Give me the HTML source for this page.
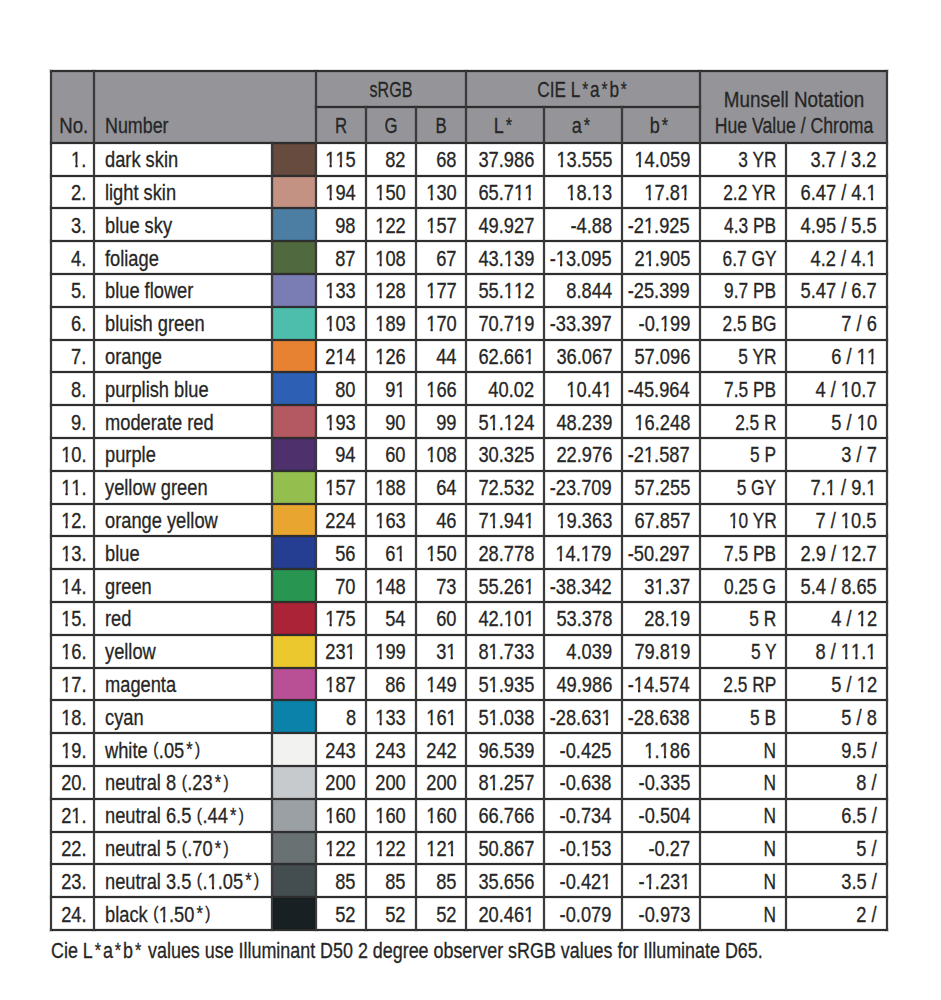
<!DOCTYPE html>
<html><head><meta charset="utf-8"><style>
html,body{margin:0;padding:0;background:#fff;}
body{width:941px;height:1000px;position:relative;overflow:hidden;font-family:"Liberation Sans",sans-serif;}
.fl{position:absolute;}
.ln{position:absolute;box-shadow:0 0 0 1px rgba(0,0,0,.09);}
.t u{text-decoration:none;display:inline-block;font-size:0.85em;line-height:10px;position:relative;top:-0.13em;margin:0 0.03em;}
.t b{font-weight:normal;display:inline-block;font-size:0.9em;line-height:10px;position:relative;top:-0.07em;margin:0 0.12em;}
.t i{font-style:normal;display:inline-block;clip-path:polygon(0 0,100% 0,100% 0.6em,0.356em 0.6em,0.356em 100%,0.234em 100%,0.234em 0.6em,0 0.6em);}
.t{position:absolute;font-size:22px;line-height:22px;color:#262626;white-space:nowrap;-webkit-text-stroke:0.3px #262626;}
.r{transform-origin:100% 50%;text-align:right;}
.l{transform-origin:0 50%;}
.c{width:400px;text-align:center;transform-origin:50% 50%;}
</style></head><body>
<div class="fl" style="left:50px;top:70px;width:838px;height:72.69999999999999px;background:#959599"></div>
<div class="fl" style="left:271px;top:142.70px;width:44px;height:32.80px;background:#664B3E"></div>
<div class="fl" style="left:271px;top:175.50px;width:44px;height:32.80px;background:#C49282"></div>
<div class="fl" style="left:271px;top:208.30px;width:44px;height:32.80px;background:#4C7EA3"></div>
<div class="fl" style="left:271px;top:241.10px;width:44px;height:32.80px;background:#50693E"></div>
<div class="fl" style="left:271px;top:273.90px;width:44px;height:32.80px;background:#7A7CB4"></div>
<div class="fl" style="left:271px;top:306.70px;width:44px;height:32.80px;background:#4EBEAC"></div>
<div class="fl" style="left:271px;top:339.50px;width:44px;height:32.80px;background:#E68232"></div>
<div class="fl" style="left:271px;top:372.30px;width:44px;height:32.80px;background:#2D5FB4"></div>
<div class="fl" style="left:271px;top:405.10px;width:44px;height:32.80px;background:#B45862"></div>
<div class="fl" style="left:271px;top:437.90px;width:44px;height:32.80px;background:#4E306C"></div>
<div class="fl" style="left:271px;top:470.70px;width:44px;height:32.80px;background:#94BE4E"></div>
<div class="fl" style="left:271px;top:503.50px;width:44px;height:32.80px;background:#E8A530"></div>
<div class="fl" style="left:271px;top:536.30px;width:44px;height:32.80px;background:#263E91"></div>
<div class="fl" style="left:271px;top:569.10px;width:44px;height:32.80px;background:#289650"></div>
<div class="fl" style="left:271px;top:601.90px;width:44px;height:32.80px;background:#AA2337"></div>
<div class="fl" style="left:271px;top:634.70px;width:44px;height:32.80px;background:#EBC82D"></div>
<div class="fl" style="left:271px;top:667.50px;width:44px;height:32.80px;background:#B95096"></div>
<div class="fl" style="left:271px;top:700.30px;width:44px;height:32.80px;background:#0A82AA"></div>
<div class="fl" style="left:271px;top:733.10px;width:44px;height:32.80px;background:#F2F3F1"></div>
<div class="fl" style="left:271px;top:765.90px;width:44px;height:32.80px;background:#C6CACC"></div>
<div class="fl" style="left:271px;top:798.70px;width:44px;height:32.80px;background:#9BA0A4"></div>
<div class="fl" style="left:271px;top:831.50px;width:44px;height:32.80px;background:#697173"></div>
<div class="fl" style="left:271px;top:864.30px;width:44px;height:32.80px;background:#444E50"></div>
<div class="fl" style="left:271px;top:897.10px;width:44px;height:32.80px;background:#192024"></div>
<div class="ln" style="left:50px;top:70px;width:838px;height:2px;background:#2e2e2e"></div>
<div class="ln" style="left:315px;top:106px;width:386px;height:2px;background:#2e2e2e"></div>
<div class="ln" style="left:50px;top:141.7px;width:838px;height:2px;background:#2e2e2e"></div>
<div class="ln" style="left:50px;top:174.5px;width:838px;height:2px;background:#2e2e2e"></div>
<div class="ln" style="left:50px;top:207.3px;width:838px;height:2px;background:#2e2e2e"></div>
<div class="ln" style="left:50px;top:240.1px;width:838px;height:2px;background:#2e2e2e"></div>
<div class="ln" style="left:50px;top:272.9px;width:838px;height:2px;background:#2e2e2e"></div>
<div class="ln" style="left:50px;top:305.7px;width:838px;height:2px;background:#2e2e2e"></div>
<div class="ln" style="left:50px;top:338.5px;width:838px;height:2px;background:#2e2e2e"></div>
<div class="ln" style="left:50px;top:371.3px;width:838px;height:2px;background:#2e2e2e"></div>
<div class="ln" style="left:50px;top:404.1px;width:838px;height:2px;background:#2e2e2e"></div>
<div class="ln" style="left:50px;top:436.9px;width:838px;height:2px;background:#2e2e2e"></div>
<div class="ln" style="left:50px;top:469.7px;width:838px;height:2px;background:#2e2e2e"></div>
<div class="ln" style="left:50px;top:502.5px;width:838px;height:2px;background:#2e2e2e"></div>
<div class="ln" style="left:50px;top:535.3px;width:838px;height:2px;background:#2e2e2e"></div>
<div class="ln" style="left:50px;top:568.1px;width:838px;height:2px;background:#2e2e2e"></div>
<div class="ln" style="left:50px;top:600.9px;width:838px;height:2px;background:#2e2e2e"></div>
<div class="ln" style="left:50px;top:633.7px;width:838px;height:2px;background:#2e2e2e"></div>
<div class="ln" style="left:50px;top:666.5px;width:838px;height:2px;background:#2e2e2e"></div>
<div class="ln" style="left:50px;top:699.3px;width:838px;height:2px;background:#2e2e2e"></div>
<div class="ln" style="left:50px;top:732.1px;width:838px;height:2px;background:#2e2e2e"></div>
<div class="ln" style="left:50px;top:764.9px;width:838px;height:2px;background:#2e2e2e"></div>
<div class="ln" style="left:50px;top:797.7px;width:838px;height:2px;background:#2e2e2e"></div>
<div class="ln" style="left:50px;top:830.5px;width:838px;height:2px;background:#2e2e2e"></div>
<div class="ln" style="left:50px;top:863.3px;width:838px;height:2px;background:#2e2e2e"></div>
<div class="ln" style="left:50px;top:896.1px;width:838px;height:2px;background:#2e2e2e"></div>
<div class="ln" style="left:50px;top:928.9px;width:838px;height:2px;background:#2e2e2e"></div>
<div class="ln" style="left:50px;top:70px;width:2px;height:860.8999999999999px;background:#3a3a3a"></div>
<div class="ln" style="left:93px;top:70px;width:2px;height:860.8999999999999px;background:#3a3a3a"></div>
<div class="ln" style="left:315px;top:70px;width:2px;height:860.8999999999999px;background:#3a3a3a"></div>
<div class="ln" style="left:365px;top:106px;width:2px;height:824.8999999999999px;background:#3a3a3a"></div>
<div class="ln" style="left:415px;top:106px;width:2px;height:824.8999999999999px;background:#3a3a3a"></div>
<div class="ln" style="left:465px;top:70px;width:2px;height:860.8999999999999px;background:#3a3a3a"></div>
<div class="ln" style="left:543px;top:106px;width:2px;height:824.8999999999999px;background:#3a3a3a"></div>
<div class="ln" style="left:621px;top:106px;width:2px;height:824.8999999999999px;background:#3a3a3a"></div>
<div class="ln" style="left:699px;top:70px;width:2px;height:860.8999999999999px;background:#3a3a3a"></div>
<div class="ln" style="left:785px;top:141.7px;width:2px;height:789.1999999999998px;background:#3a3a3a"></div>
<div class="ln" style="left:886px;top:70px;width:2px;height:860.8999999999999px;background:#3a3a3a"></div>
<div class="ln" style="left:271px;top:141.7px;width:2px;height:789.1999999999998px;background:#3a3a3a"></div>
<div id="tx" style="position:absolute;left:0;top:0;width:941px;height:1000px;opacity:0.999">
<div class="t c" style="left:191.25px;top:79.20px;transform:scaleX(0.7312)">sRGB</div>
<div class="t c" style="left:383.40px;top:79.20px;transform:scaleX(0.7827)">CIE L<b>*</b>a<b>*</b>b<b>*</b></div>
<div class="t c" style="left:593.90px;top:89.20px;transform:scaleX(0.8562)">Munsell Notation</div>
<div class="t c" style="left:593.90px;top:115.00px;transform:scaleX(0.8018)">Hue Value / Chroma</div>
<div class="t r" style="right:853.00px;top:115.00px;transform:scaleX(0.8467)">No.</div>
<div class="t l" style="left:104.60px;top:115.00px;transform:scaleX(0.8123)">Number</div>
<div class="t c" style="left:141.00px;top:115.00px;transform:scaleX(0.7636)">R</div>
<div class="t c" style="left:191.00px;top:115.00px;transform:scaleX(0.7636)">G</div>
<div class="t c" style="left:241.25px;top:115.00px;transform:scaleX(0.7636)">B</div>
<div class="t c" style="left:304.40px;top:115.00px;transform:scaleX(0.8209)">L<b>*</b></div>
<div class="t c" style="left:382.20px;top:115.00px;transform:scaleX(0.8209)">a<b>*</b></div>
<div class="t c" style="left:460.20px;top:115.00px;transform:scaleX(0.8209)">b<b>*</b></div>
<div class="t r" style="right:854.70px;top:149.20px;transform:scaleX(0.8305)"><i>1</i>.</div>
<div class="t l" style="left:104.60px;top:149.20px;transform:scaleX(0.8305)">dark skin</div>
<div class="t r" style="right:585.20px;top:149.20px;transform:scaleX(0.8305)"><i>1</i><i>1</i>5</div>
<div class="t r" style="right:535.20px;top:149.20px;transform:scaleX(0.8305)">82</div>
<div class="t r" style="right:484.70px;top:149.20px;transform:scaleX(0.8305)">68</div>
<div class="t r" style="right:406.90px;top:149.20px;transform:scaleX(0.8305)">37.986</div>
<div class="t r" style="right:329.20px;top:149.20px;transform:scaleX(0.8305)"><i>1</i>3.555</div>
<div class="t r" style="right:250.90px;top:149.20px;transform:scaleX(0.8305)"><i>1</i>4.059</div>
<div class="t r" style="right:164.70px;top:149.20px;transform:scaleX(0.7875)">3 YR</div>
<div class="t r" style="right:64.30px;top:149.20px;transform:scaleX(0.8305)">3.7 / 3.2</div>
<div class="t r" style="right:854.70px;top:182.00px;transform:scaleX(0.8305)">2.</div>
<div class="t l" style="left:104.60px;top:182.00px;transform:scaleX(0.8305)">light skin</div>
<div class="t r" style="right:585.20px;top:182.00px;transform:scaleX(0.8305)"><i>1</i>94</div>
<div class="t r" style="right:535.20px;top:182.00px;transform:scaleX(0.8305)"><i>1</i>50</div>
<div class="t r" style="right:484.70px;top:182.00px;transform:scaleX(0.8305)"><i>1</i>30</div>
<div class="t r" style="right:406.90px;top:182.00px;transform:scaleX(0.8305)">65.7<i>1</i><i>1</i></div>
<div class="t r" style="right:329.20px;top:182.00px;transform:scaleX(0.8305)"><i>1</i>8.<i>1</i>3</div>
<div class="t r" style="right:250.90px;top:182.00px;transform:scaleX(0.8305)"><i>1</i>7.8<i>1</i></div>
<div class="t r" style="right:164.70px;top:182.00px;transform:scaleX(0.7875)">2.2 YR</div>
<div class="t r" style="right:64.30px;top:182.00px;transform:scaleX(0.8305)">6.47 / 4.<i>1</i></div>
<div class="t r" style="right:854.70px;top:214.80px;transform:scaleX(0.8305)">3.</div>
<div class="t l" style="left:104.60px;top:214.80px;transform:scaleX(0.8305)">blue sky</div>
<div class="t r" style="right:585.20px;top:214.80px;transform:scaleX(0.8305)">98</div>
<div class="t r" style="right:535.20px;top:214.80px;transform:scaleX(0.8305)"><i>1</i>22</div>
<div class="t r" style="right:484.70px;top:214.80px;transform:scaleX(0.8305)"><i>1</i>57</div>
<div class="t r" style="right:406.90px;top:214.80px;transform:scaleX(0.8305)">49.927</div>
<div class="t r" style="right:329.20px;top:214.80px;transform:scaleX(0.8305)">-4.88</div>
<div class="t r" style="right:250.90px;top:214.80px;transform:scaleX(0.8305)">-2<i>1</i>.925</div>
<div class="t r" style="right:164.70px;top:214.80px;transform:scaleX(0.7875)">4.3 PB</div>
<div class="t r" style="right:64.30px;top:214.80px;transform:scaleX(0.8305)">4.95 / 5.5</div>
<div class="t r" style="right:854.70px;top:247.60px;transform:scaleX(0.8305)">4.</div>
<div class="t l" style="left:104.60px;top:247.60px;transform:scaleX(0.8305)">foliage</div>
<div class="t r" style="right:585.20px;top:247.60px;transform:scaleX(0.8305)">87</div>
<div class="t r" style="right:535.20px;top:247.60px;transform:scaleX(0.8305)"><i>1</i>08</div>
<div class="t r" style="right:484.70px;top:247.60px;transform:scaleX(0.8305)">67</div>
<div class="t r" style="right:406.90px;top:247.60px;transform:scaleX(0.8305)">43.<i>1</i>39</div>
<div class="t r" style="right:329.20px;top:247.60px;transform:scaleX(0.8305)">-<i>1</i>3.095</div>
<div class="t r" style="right:250.90px;top:247.60px;transform:scaleX(0.8305)">2<i>1</i>.905</div>
<div class="t r" style="right:164.70px;top:247.60px;transform:scaleX(0.7875)">6.7 GY</div>
<div class="t r" style="right:64.30px;top:247.60px;transform:scaleX(0.8305)">4.2 / 4.<i>1</i></div>
<div class="t r" style="right:854.70px;top:280.40px;transform:scaleX(0.8305)">5.</div>
<div class="t l" style="left:104.60px;top:280.40px;transform:scaleX(0.8305)">blue flower</div>
<div class="t r" style="right:585.20px;top:280.40px;transform:scaleX(0.8305)"><i>1</i>33</div>
<div class="t r" style="right:535.20px;top:280.40px;transform:scaleX(0.8305)"><i>1</i>28</div>
<div class="t r" style="right:484.70px;top:280.40px;transform:scaleX(0.8305)"><i>1</i>77</div>
<div class="t r" style="right:406.90px;top:280.40px;transform:scaleX(0.8305)">55.<i>1</i><i>1</i>2</div>
<div class="t r" style="right:329.20px;top:280.40px;transform:scaleX(0.8305)">8.844</div>
<div class="t r" style="right:250.90px;top:280.40px;transform:scaleX(0.8305)">-25.399</div>
<div class="t r" style="right:164.70px;top:280.40px;transform:scaleX(0.7875)">9.7 PB</div>
<div class="t r" style="right:64.30px;top:280.40px;transform:scaleX(0.8305)">5.47 / 6.7</div>
<div class="t r" style="right:854.70px;top:313.20px;transform:scaleX(0.8305)">6.</div>
<div class="t l" style="left:104.60px;top:313.20px;transform:scaleX(0.8305)">bluish green</div>
<div class="t r" style="right:585.20px;top:313.20px;transform:scaleX(0.8305)"><i>1</i>03</div>
<div class="t r" style="right:535.20px;top:313.20px;transform:scaleX(0.8305)"><i>1</i>89</div>
<div class="t r" style="right:484.70px;top:313.20px;transform:scaleX(0.8305)"><i>1</i>70</div>
<div class="t r" style="right:406.90px;top:313.20px;transform:scaleX(0.8305)">70.7<i>1</i>9</div>
<div class="t r" style="right:329.20px;top:313.20px;transform:scaleX(0.8305)">-33.397</div>
<div class="t r" style="right:250.90px;top:313.20px;transform:scaleX(0.8305)">-0.<i>1</i>99</div>
<div class="t r" style="right:164.70px;top:313.20px;transform:scaleX(0.7875)">2.5 BG</div>
<div class="t r" style="right:64.30px;top:313.20px;transform:scaleX(0.8305)">7 / 6</div>
<div class="t r" style="right:854.70px;top:346.00px;transform:scaleX(0.8305)">7.</div>
<div class="t l" style="left:104.60px;top:346.00px;transform:scaleX(0.8305)">orange</div>
<div class="t r" style="right:585.20px;top:346.00px;transform:scaleX(0.8305)">2<i>1</i>4</div>
<div class="t r" style="right:535.20px;top:346.00px;transform:scaleX(0.8305)"><i>1</i>26</div>
<div class="t r" style="right:484.70px;top:346.00px;transform:scaleX(0.8305)">44</div>
<div class="t r" style="right:406.90px;top:346.00px;transform:scaleX(0.8305)">62.66<i>1</i></div>
<div class="t r" style="right:329.20px;top:346.00px;transform:scaleX(0.8305)">36.067</div>
<div class="t r" style="right:250.90px;top:346.00px;transform:scaleX(0.8305)">57.096</div>
<div class="t r" style="right:164.70px;top:346.00px;transform:scaleX(0.7875)">5 YR</div>
<div class="t r" style="right:64.30px;top:346.00px;transform:scaleX(0.8305)">6 / <i>1</i><i>1</i></div>
<div class="t r" style="right:854.70px;top:378.80px;transform:scaleX(0.8305)">8.</div>
<div class="t l" style="left:104.60px;top:378.80px;transform:scaleX(0.8305)">purplish blue</div>
<div class="t r" style="right:585.20px;top:378.80px;transform:scaleX(0.8305)">80</div>
<div class="t r" style="right:535.20px;top:378.80px;transform:scaleX(0.8305)">9<i>1</i></div>
<div class="t r" style="right:484.70px;top:378.80px;transform:scaleX(0.8305)"><i>1</i>66</div>
<div class="t r" style="right:406.90px;top:378.80px;transform:scaleX(0.8305)">40.02</div>
<div class="t r" style="right:329.20px;top:378.80px;transform:scaleX(0.8305)"><i>1</i>0.4<i>1</i></div>
<div class="t r" style="right:250.90px;top:378.80px;transform:scaleX(0.8305)">-45.964</div>
<div class="t r" style="right:164.70px;top:378.80px;transform:scaleX(0.7875)">7.5 PB</div>
<div class="t r" style="right:64.30px;top:378.80px;transform:scaleX(0.8305)">4 / <i>1</i>0.7</div>
<div class="t r" style="right:854.70px;top:411.60px;transform:scaleX(0.8305)">9.</div>
<div class="t l" style="left:104.60px;top:411.60px;transform:scaleX(0.8305)">moderate red</div>
<div class="t r" style="right:585.20px;top:411.60px;transform:scaleX(0.8305)"><i>1</i>93</div>
<div class="t r" style="right:535.20px;top:411.60px;transform:scaleX(0.8305)">90</div>
<div class="t r" style="right:484.70px;top:411.60px;transform:scaleX(0.8305)">99</div>
<div class="t r" style="right:406.90px;top:411.60px;transform:scaleX(0.8305)">5<i>1</i>.<i>1</i>24</div>
<div class="t r" style="right:329.20px;top:411.60px;transform:scaleX(0.8305)">48.239</div>
<div class="t r" style="right:250.90px;top:411.60px;transform:scaleX(0.8305)"><i>1</i>6.248</div>
<div class="t r" style="right:164.70px;top:411.60px;transform:scaleX(0.7875)">2.5 R</div>
<div class="t r" style="right:64.30px;top:411.60px;transform:scaleX(0.8305)">5 / <i>1</i>0</div>
<div class="t r" style="right:854.70px;top:444.40px;transform:scaleX(0.8305)"><i>1</i>0.</div>
<div class="t l" style="left:104.60px;top:444.40px;transform:scaleX(0.8305)">purple</div>
<div class="t r" style="right:585.20px;top:444.40px;transform:scaleX(0.8305)">94</div>
<div class="t r" style="right:535.20px;top:444.40px;transform:scaleX(0.8305)">60</div>
<div class="t r" style="right:484.70px;top:444.40px;transform:scaleX(0.8305)"><i>1</i>08</div>
<div class="t r" style="right:406.90px;top:444.40px;transform:scaleX(0.8305)">30.325</div>
<div class="t r" style="right:329.20px;top:444.40px;transform:scaleX(0.8305)">22.976</div>
<div class="t r" style="right:250.90px;top:444.40px;transform:scaleX(0.8305)">-2<i>1</i>.587</div>
<div class="t r" style="right:164.70px;top:444.40px;transform:scaleX(0.7875)">5 P</div>
<div class="t r" style="right:64.30px;top:444.40px;transform:scaleX(0.8305)">3 / 7</div>
<div class="t r" style="right:854.70px;top:477.20px;transform:scaleX(0.8305)"><i>1</i><i>1</i>.</div>
<div class="t l" style="left:104.60px;top:477.20px;transform:scaleX(0.8305)">yellow green</div>
<div class="t r" style="right:585.20px;top:477.20px;transform:scaleX(0.8305)"><i>1</i>57</div>
<div class="t r" style="right:535.20px;top:477.20px;transform:scaleX(0.8305)"><i>1</i>88</div>
<div class="t r" style="right:484.70px;top:477.20px;transform:scaleX(0.8305)">64</div>
<div class="t r" style="right:406.90px;top:477.20px;transform:scaleX(0.8305)">72.532</div>
<div class="t r" style="right:329.20px;top:477.20px;transform:scaleX(0.8305)">-23.709</div>
<div class="t r" style="right:250.90px;top:477.20px;transform:scaleX(0.8305)">57.255</div>
<div class="t r" style="right:164.70px;top:477.20px;transform:scaleX(0.7875)">5 GY</div>
<div class="t r" style="right:64.30px;top:477.20px;transform:scaleX(0.8305)">7.<i>1</i> / 9.<i>1</i></div>
<div class="t r" style="right:854.70px;top:510.00px;transform:scaleX(0.8305)"><i>1</i>2.</div>
<div class="t l" style="left:104.60px;top:510.00px;transform:scaleX(0.8305)">orange yellow</div>
<div class="t r" style="right:585.20px;top:510.00px;transform:scaleX(0.8305)">224</div>
<div class="t r" style="right:535.20px;top:510.00px;transform:scaleX(0.8305)"><i>1</i>63</div>
<div class="t r" style="right:484.70px;top:510.00px;transform:scaleX(0.8305)">46</div>
<div class="t r" style="right:406.90px;top:510.00px;transform:scaleX(0.8305)">7<i>1</i>.94<i>1</i></div>
<div class="t r" style="right:329.20px;top:510.00px;transform:scaleX(0.8305)"><i>1</i>9.363</div>
<div class="t r" style="right:250.90px;top:510.00px;transform:scaleX(0.8305)">67.857</div>
<div class="t r" style="right:164.70px;top:510.00px;transform:scaleX(0.7875)"><i>1</i>0 YR</div>
<div class="t r" style="right:64.30px;top:510.00px;transform:scaleX(0.8305)">7 / <i>1</i>0.5</div>
<div class="t r" style="right:854.70px;top:542.80px;transform:scaleX(0.8305)"><i>1</i>3.</div>
<div class="t l" style="left:104.60px;top:542.80px;transform:scaleX(0.8305)">blue</div>
<div class="t r" style="right:585.20px;top:542.80px;transform:scaleX(0.8305)">56</div>
<div class="t r" style="right:535.20px;top:542.80px;transform:scaleX(0.8305)">6<i>1</i></div>
<div class="t r" style="right:484.70px;top:542.80px;transform:scaleX(0.8305)"><i>1</i>50</div>
<div class="t r" style="right:406.90px;top:542.80px;transform:scaleX(0.8305)">28.778</div>
<div class="t r" style="right:329.20px;top:542.80px;transform:scaleX(0.8305)"><i>1</i>4.<i>1</i>79</div>
<div class="t r" style="right:250.90px;top:542.80px;transform:scaleX(0.8305)">-50.297</div>
<div class="t r" style="right:164.70px;top:542.80px;transform:scaleX(0.7875)">7.5 PB</div>
<div class="t r" style="right:64.30px;top:542.80px;transform:scaleX(0.8305)">2.9 / <i>1</i>2.7</div>
<div class="t r" style="right:854.70px;top:575.60px;transform:scaleX(0.8305)"><i>1</i>4.</div>
<div class="t l" style="left:104.60px;top:575.60px;transform:scaleX(0.8305)">green</div>
<div class="t r" style="right:585.20px;top:575.60px;transform:scaleX(0.8305)">70</div>
<div class="t r" style="right:535.20px;top:575.60px;transform:scaleX(0.8305)"><i>1</i>48</div>
<div class="t r" style="right:484.70px;top:575.60px;transform:scaleX(0.8305)">73</div>
<div class="t r" style="right:406.90px;top:575.60px;transform:scaleX(0.8305)">55.26<i>1</i></div>
<div class="t r" style="right:329.20px;top:575.60px;transform:scaleX(0.8305)">-38.342</div>
<div class="t r" style="right:250.90px;top:575.60px;transform:scaleX(0.8305)">3<i>1</i>.37</div>
<div class="t r" style="right:164.70px;top:575.60px;transform:scaleX(0.7875)">0.25 G</div>
<div class="t r" style="right:64.30px;top:575.60px;transform:scaleX(0.8305)">5.4 / 8.65</div>
<div class="t r" style="right:854.70px;top:608.40px;transform:scaleX(0.8305)"><i>1</i>5.</div>
<div class="t l" style="left:104.60px;top:608.40px;transform:scaleX(0.8305)">red</div>
<div class="t r" style="right:585.20px;top:608.40px;transform:scaleX(0.8305)"><i>1</i>75</div>
<div class="t r" style="right:535.20px;top:608.40px;transform:scaleX(0.8305)">54</div>
<div class="t r" style="right:484.70px;top:608.40px;transform:scaleX(0.8305)">60</div>
<div class="t r" style="right:406.90px;top:608.40px;transform:scaleX(0.8305)">42.<i>1</i>0<i>1</i></div>
<div class="t r" style="right:329.20px;top:608.40px;transform:scaleX(0.8305)">53.378</div>
<div class="t r" style="right:250.90px;top:608.40px;transform:scaleX(0.8305)">28.<i>1</i>9</div>
<div class="t r" style="right:164.70px;top:608.40px;transform:scaleX(0.7875)">5 R</div>
<div class="t r" style="right:64.30px;top:608.40px;transform:scaleX(0.8305)">4 / <i>1</i>2</div>
<div class="t r" style="right:854.70px;top:641.20px;transform:scaleX(0.8305)"><i>1</i>6.</div>
<div class="t l" style="left:104.60px;top:641.20px;transform:scaleX(0.8305)">yellow</div>
<div class="t r" style="right:585.20px;top:641.20px;transform:scaleX(0.8305)">23<i>1</i></div>
<div class="t r" style="right:535.20px;top:641.20px;transform:scaleX(0.8305)"><i>1</i>99</div>
<div class="t r" style="right:484.70px;top:641.20px;transform:scaleX(0.8305)">3<i>1</i></div>
<div class="t r" style="right:406.90px;top:641.20px;transform:scaleX(0.8305)">8<i>1</i>.733</div>
<div class="t r" style="right:329.20px;top:641.20px;transform:scaleX(0.8305)">4.039</div>
<div class="t r" style="right:250.90px;top:641.20px;transform:scaleX(0.8305)">79.8<i>1</i>9</div>
<div class="t r" style="right:164.70px;top:641.20px;transform:scaleX(0.7875)">5 Y</div>
<div class="t r" style="right:64.30px;top:641.20px;transform:scaleX(0.8305)">8 / <i>1</i><i>1</i>.<i>1</i></div>
<div class="t r" style="right:854.70px;top:674.00px;transform:scaleX(0.8305)"><i>1</i>7.</div>
<div class="t l" style="left:104.60px;top:674.00px;transform:scaleX(0.8305)">magenta</div>
<div class="t r" style="right:585.20px;top:674.00px;transform:scaleX(0.8305)"><i>1</i>87</div>
<div class="t r" style="right:535.20px;top:674.00px;transform:scaleX(0.8305)">86</div>
<div class="t r" style="right:484.70px;top:674.00px;transform:scaleX(0.8305)"><i>1</i>49</div>
<div class="t r" style="right:406.90px;top:674.00px;transform:scaleX(0.8305)">5<i>1</i>.935</div>
<div class="t r" style="right:329.20px;top:674.00px;transform:scaleX(0.8305)">49.986</div>
<div class="t r" style="right:250.90px;top:674.00px;transform:scaleX(0.8305)">-<i>1</i>4.574</div>
<div class="t r" style="right:164.70px;top:674.00px;transform:scaleX(0.7875)">2.5 RP</div>
<div class="t r" style="right:64.30px;top:674.00px;transform:scaleX(0.8305)">5 / <i>1</i>2</div>
<div class="t r" style="right:854.70px;top:706.80px;transform:scaleX(0.8305)"><i>1</i>8.</div>
<div class="t l" style="left:104.60px;top:706.80px;transform:scaleX(0.8305)">cyan</div>
<div class="t r" style="right:585.20px;top:706.80px;transform:scaleX(0.8305)">8</div>
<div class="t r" style="right:535.20px;top:706.80px;transform:scaleX(0.8305)"><i>1</i>33</div>
<div class="t r" style="right:484.70px;top:706.80px;transform:scaleX(0.8305)"><i>1</i>6<i>1</i></div>
<div class="t r" style="right:406.90px;top:706.80px;transform:scaleX(0.8305)">5<i>1</i>.038</div>
<div class="t r" style="right:329.20px;top:706.80px;transform:scaleX(0.8305)">-28.63<i>1</i></div>
<div class="t r" style="right:250.90px;top:706.80px;transform:scaleX(0.8305)">-28.638</div>
<div class="t r" style="right:164.70px;top:706.80px;transform:scaleX(0.7875)">5 B</div>
<div class="t r" style="right:64.30px;top:706.80px;transform:scaleX(0.8305)">5 / 8</div>
<div class="t r" style="right:854.70px;top:739.60px;transform:scaleX(0.8305)"><i>1</i>9.</div>
<div class="t l" style="left:104.60px;top:739.60px;transform:scaleX(0.8305)">white <u>(</u>.05<b>*</b><u>)</u></div>
<div class="t r" style="right:585.20px;top:739.60px;transform:scaleX(0.8305)">243</div>
<div class="t r" style="right:535.20px;top:739.60px;transform:scaleX(0.8305)">243</div>
<div class="t r" style="right:484.70px;top:739.60px;transform:scaleX(0.8305)">242</div>
<div class="t r" style="right:406.90px;top:739.60px;transform:scaleX(0.8305)">96.539</div>
<div class="t r" style="right:329.20px;top:739.60px;transform:scaleX(0.8305)">-0.425</div>
<div class="t r" style="right:250.90px;top:739.60px;transform:scaleX(0.8305)"><i>1</i>.<i>1</i>86</div>
<div class="t r" style="right:164.70px;top:739.60px;transform:scaleX(0.7875)">N</div>
<div class="t r" style="right:64.30px;top:739.60px;transform:scaleX(0.8305)">9.5 /</div>
<div class="t r" style="right:854.70px;top:772.40px;transform:scaleX(0.8305)">20.</div>
<div class="t l" style="left:104.60px;top:772.40px;transform:scaleX(0.8305)">neutral 8 <u>(</u>.23<b>*</b><u>)</u></div>
<div class="t r" style="right:585.20px;top:772.40px;transform:scaleX(0.8305)">200</div>
<div class="t r" style="right:535.20px;top:772.40px;transform:scaleX(0.8305)">200</div>
<div class="t r" style="right:484.70px;top:772.40px;transform:scaleX(0.8305)">200</div>
<div class="t r" style="right:406.90px;top:772.40px;transform:scaleX(0.8305)">8<i>1</i>.257</div>
<div class="t r" style="right:329.20px;top:772.40px;transform:scaleX(0.8305)">-0.638</div>
<div class="t r" style="right:250.90px;top:772.40px;transform:scaleX(0.8305)">-0.335</div>
<div class="t r" style="right:164.70px;top:772.40px;transform:scaleX(0.7875)">N</div>
<div class="t r" style="right:64.30px;top:772.40px;transform:scaleX(0.8305)">8 /</div>
<div class="t r" style="right:854.70px;top:805.20px;transform:scaleX(0.8305)">2<i>1</i>.</div>
<div class="t l" style="left:104.60px;top:805.20px;transform:scaleX(0.8305)">neutral 6.5 <u>(</u>.44<b>*</b><u>)</u></div>
<div class="t r" style="right:585.20px;top:805.20px;transform:scaleX(0.8305)"><i>1</i>60</div>
<div class="t r" style="right:535.20px;top:805.20px;transform:scaleX(0.8305)"><i>1</i>60</div>
<div class="t r" style="right:484.70px;top:805.20px;transform:scaleX(0.8305)"><i>1</i>60</div>
<div class="t r" style="right:406.90px;top:805.20px;transform:scaleX(0.8305)">66.766</div>
<div class="t r" style="right:329.20px;top:805.20px;transform:scaleX(0.8305)">-0.734</div>
<div class="t r" style="right:250.90px;top:805.20px;transform:scaleX(0.8305)">-0.504</div>
<div class="t r" style="right:164.70px;top:805.20px;transform:scaleX(0.7875)">N</div>
<div class="t r" style="right:64.30px;top:805.20px;transform:scaleX(0.8305)">6.5 /</div>
<div class="t r" style="right:854.70px;top:838.00px;transform:scaleX(0.8305)">22.</div>
<div class="t l" style="left:104.60px;top:838.00px;transform:scaleX(0.8305)">neutral 5 <u>(</u>.70<b>*</b><u>)</u></div>
<div class="t r" style="right:585.20px;top:838.00px;transform:scaleX(0.8305)"><i>1</i>22</div>
<div class="t r" style="right:535.20px;top:838.00px;transform:scaleX(0.8305)"><i>1</i>22</div>
<div class="t r" style="right:484.70px;top:838.00px;transform:scaleX(0.8305)"><i>1</i>2<i>1</i></div>
<div class="t r" style="right:406.90px;top:838.00px;transform:scaleX(0.8305)">50.867</div>
<div class="t r" style="right:329.20px;top:838.00px;transform:scaleX(0.8305)">-0.<i>1</i>53</div>
<div class="t r" style="right:250.90px;top:838.00px;transform:scaleX(0.8305)">-0.27</div>
<div class="t r" style="right:164.70px;top:838.00px;transform:scaleX(0.7875)">N</div>
<div class="t r" style="right:64.30px;top:838.00px;transform:scaleX(0.8305)">5 /</div>
<div class="t r" style="right:854.70px;top:870.80px;transform:scaleX(0.8305)">23.</div>
<div class="t l" style="left:104.60px;top:870.80px;transform:scaleX(0.8305)">neutral 3.5 <u>(</u>.<i>1</i>.05<b>*</b><u>)</u></div>
<div class="t r" style="right:585.20px;top:870.80px;transform:scaleX(0.8305)">85</div>
<div class="t r" style="right:535.20px;top:870.80px;transform:scaleX(0.8305)">85</div>
<div class="t r" style="right:484.70px;top:870.80px;transform:scaleX(0.8305)">85</div>
<div class="t r" style="right:406.90px;top:870.80px;transform:scaleX(0.8305)">35.656</div>
<div class="t r" style="right:329.20px;top:870.80px;transform:scaleX(0.8305)">-0.42<i>1</i></div>
<div class="t r" style="right:250.90px;top:870.80px;transform:scaleX(0.8305)">-<i>1</i>.23<i>1</i></div>
<div class="t r" style="right:164.70px;top:870.80px;transform:scaleX(0.7875)">N</div>
<div class="t r" style="right:64.30px;top:870.80px;transform:scaleX(0.8305)">3.5 /</div>
<div class="t r" style="right:854.70px;top:903.60px;transform:scaleX(0.8305)">24.</div>
<div class="t l" style="left:104.60px;top:903.60px;transform:scaleX(0.8305)">black <u>(</u><i>1</i>.50<b>*</b><u>)</u></div>
<div class="t r" style="right:585.20px;top:903.60px;transform:scaleX(0.8305)">52</div>
<div class="t r" style="right:535.20px;top:903.60px;transform:scaleX(0.8305)">52</div>
<div class="t r" style="right:484.70px;top:903.60px;transform:scaleX(0.8305)">52</div>
<div class="t r" style="right:406.90px;top:903.60px;transform:scaleX(0.8305)">20.46<i>1</i></div>
<div class="t r" style="right:329.20px;top:903.60px;transform:scaleX(0.8305)">-0.079</div>
<div class="t r" style="right:250.90px;top:903.60px;transform:scaleX(0.8305)">-0.973</div>
<div class="t r" style="right:164.70px;top:903.60px;transform:scaleX(0.7875)">N</div>
<div class="t r" style="right:64.30px;top:903.60px;transform:scaleX(0.8305)">2 /</div>
<div class="t l" style="left:50.70px;top:940.10px;transform:scaleX(0.8133)">Cie L<b>*</b>a<b>*</b>b<b>*</b> values use Illuminant D50 2 degree observer sRGB values for Illuminate D65.</div>
</div>
</body></html>
